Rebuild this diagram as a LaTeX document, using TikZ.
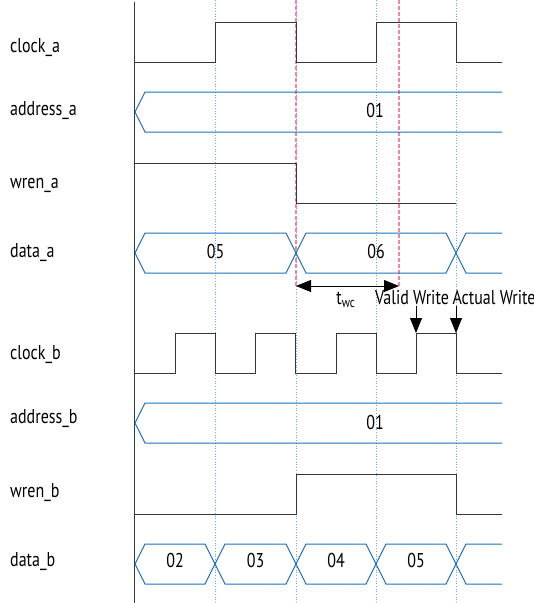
\documentclass[tikz,border=0pt]{standalone}
\usepackage{fontspec}
\setmainfont{PT Sans}[FakeStretch=0.8]
\usetikzlibrary{arrows.meta}
\definecolor{busblue}{RGB}{28,112,186}
\definecolor{gridblue}{RGB}{105,170,220}
\definecolor{markred}{RGB}{244,132,160}
\definecolor{wavegray}{RGB}{55,55,55}
\begin{document}
\begin{tikzpicture}[x=1pt,y=-1pt,
    wave/.style={wavegray,line width=1pt},
    bus/.style={busblue,line width=1pt},
    gridline/.style={gridblue,dotted,line width=0.7pt},
    markline/.style={markred,dash pattern=on 4pt off 2pt,line width=1.7pt},
    siglabel/.style={anchor=base west,inner sep=0pt,font=\fontsize{20}{20}\selectfont},
    buslabel/.style={anchor=base,inner sep=0pt,font=\fontsize{20}{20}\selectfont},
    tip/.style={-{Triangle[length=15pt,width=12pt]},black,line width=0.8pt}]
  \useasboundingbox (0,0) rectangle (534,603);

  % Grid
  \foreach \x in {215,296,376,456} \draw[gridline] (\x,0) -- (\x,603);
  \foreach \x in {296,399} \draw[markline] (\x,0) -- (\x,287);
  \draw[wavegray,line width=1.2pt] (134.5,2) -- (134.5,603);

  % Signal names
  \node[siglabel] (clka)  at (10,52)  {clock\_a};
  \node[siglabel] (addra) at (10,115) {address\_a};
  \node[siglabel] (wrena) at (10,188) {wren\_a};
  \node[siglabel] (dataa) at (10,257) {data\_a};
  \node[siglabel] (clkb)  at (10,359) {clock\_b};
  \node[siglabel] (addrb) at (10,423) {address\_b};
  \node[siglabel] (wrenb) at (10,497) {wren\_b};
  \node[siglabel] (datab) at (10,566) {data\_b};

  % Clocks and write enables
  \draw[wave] (135,62) -| (215,22) -| (296,62) -| (376,22) -| (456,62) -- (502,62);
  \draw[wave] (135,373) \foreach \x in {175,255,336,416} {-| (\x,333) -| (\x+40,373)} -- (502,373);
  \draw[wave] (135,163) -| (296,203) -- (456,203);
  \draw[wave] (135,514) -| (296,474) -| (456,514) -- (502,514);

  % Buses
  \foreach \t/\m/\b in {92/112/132,403/423/443} {
    \draw[bus] (502,\t) -- (145,\t) -- (135,\m) -- (145,\b) -- (502,\b);
  }
  \node[buslabel] (addraval) at (375,117) {01};
  \node[buslabel] (addrbval) at (375,429) {01};

  \foreach \a/\z/\v in {135/296/05,296/456/06} {
    \draw[bus] (\a,253) -- (\a+10,233) -- (\z-10,233) -- (\z,253) -- (\z-10,273) -- (\a+10,273) -- cycle;
    \node[buslabel] (da\v) at ({(\a+\z)/2},258) {\v};
  }
  \draw[bus] (502,233) -- (466,233) -- (456,253) -- (466,273) -- (502,273);

  \foreach \a/\z/\v in {135/215/02,215/296/03,296/376/04,376/456/05} {
    \draw[bus] (\a,564) -- (\a+10,544) -- (\z-10,544) -- (\z,564) -- (\z-10,584) -- (\a+10,584) -- cycle;
    \node[buslabel] (db\v) at ({(\a+\z)/2},567) {\v};
  }
  \draw[bus] (502,544) -- (466,544) -- (456,564) -- (466,584) -- (502,584);

  % Write timing
  \coordinate (twcstart) at (296,286);
  \coordinate (twcend) at (399,286);
  \draw[tip,{Triangle[length=15pt,width=12pt]}-{Triangle[length=15pt,width=12pt]}] (twcstart) -- (twcend);
  \node[buslabel] (twc) at (346,304) {t\textsubscript{wc}};
  \node[buslabel] (valid) at (412,304) {Valid Write};
  \node[buslabel] (actual) at (494,304) {Actual Write};
  \coordinate (validedge) at (416,333);
  \coordinate (actualedge) at (456,333);
  \draw[tip] (valid.south -| validedge) ++(0,2) -- (validedge);
  \draw[tip] (actual.south -| actualedge) ++(0,2) -- (actualedge);
\end{tikzpicture}
\end{document}
